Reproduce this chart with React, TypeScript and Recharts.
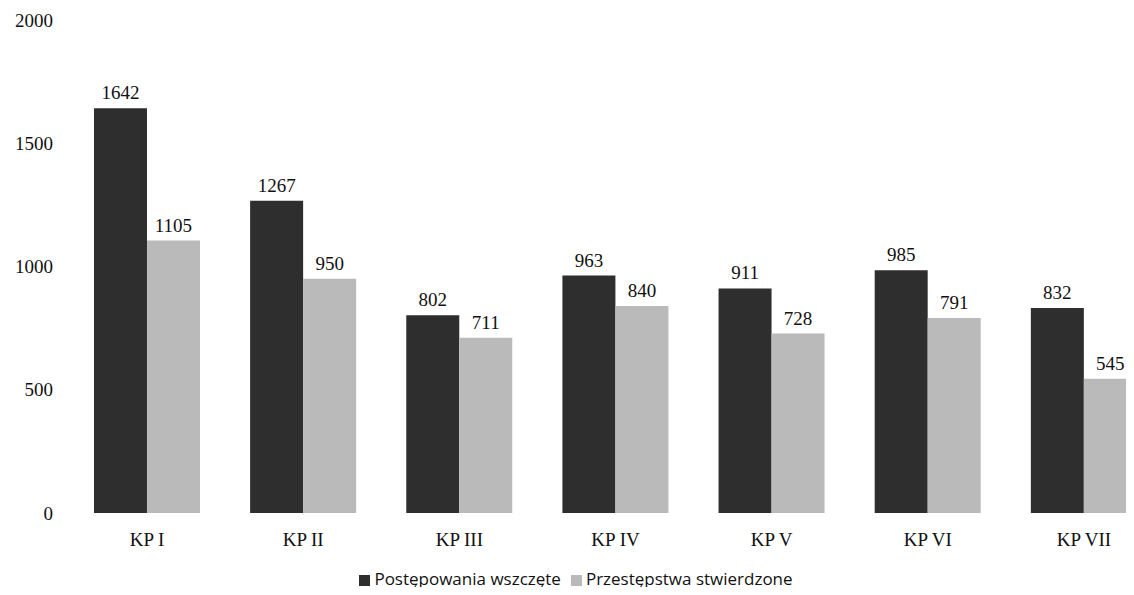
import { BarChart, Bar, XAxis, YAxis, Legend, LabelList } from 'recharts'

const CATEGORIES = ['KP I', 'KP II', 'KP III', 'KP IV', 'KP V', 'KP VI', 'KP VII']
const WSZCZETE = [1642, 1267, 802, 963, 911, 985, 832]
const STWIERDZONE = [1105, 950, 711, 840, 728, 791, 545]
const Y_TICKS = [0, 500, 1000, 1500, 2000]

const DARK = '#2e2e2e'
const LIGHT = '#bababa'
const SERIF = '"Liberation Serif", "Times New Roman", serif'

const data = CATEGORIES.map((name, i) => ({
  name,
  wszczete: WSZCZETE[i],
  stwierdzone: STWIERDZONE[i],
}))

const AXIS_TICK = { fontSize: 19, fill: '#111', fontFamily: SERIF }
const LABEL_STYLE = { fontSize: 19, fill: '#111', fontFamily: SERIF }

export default function App() {
  return (
    <div style={{ position: 'relative', margin: -8, width: 1134, height: 595, overflow: 'hidden', background: '#fff' }}>
      <BarChart
        width={1170}
        height={595}
        data={data}
        margin={{ top: 20, right: 8, bottom: 5, left: 0 }}
        barGap={0}
        barCategoryGap="16%"
      >
        <XAxis
          dataKey="name"
          tick={AXIS_TICK}
          tickLine={false}
          axisLine={false}
          tickMargin={14}
          height={54}
        />
        <YAxis
          domain={[0, 2000]}
          ticks={Y_TICKS}
          tick={AXIS_TICK}
          tickLine={false}
          axisLine={false}
          tickMargin={10}
          width={69}
        />
        <Legend
          verticalAlign="bottom"
          iconType="square"
          iconSize={11}
          wrapperStyle={{ fontFamily: '"Open Sans", sans-serif', fontSize: 17, color: '#111' }}
          formatter={(v: string) => <span style={{ color: '#111' }}>{v}</span>}
        />
        <Bar dataKey="wszczete" name="Postępowania wszczęte" fill={DARK} isAnimationActive={false}>
          <LabelList dataKey="wszczete" position="top" offset={9} style={LABEL_STYLE} />
        </Bar>
        <Bar dataKey="stwierdzone" name="Przestępstwa stwierdzone" fill={LIGHT} isAnimationActive={false}>
          <LabelList dataKey="stwierdzone" position="top" offset={9} style={LABEL_STYLE} />
        </Bar>
      </BarChart>
    </div>
  )
}
